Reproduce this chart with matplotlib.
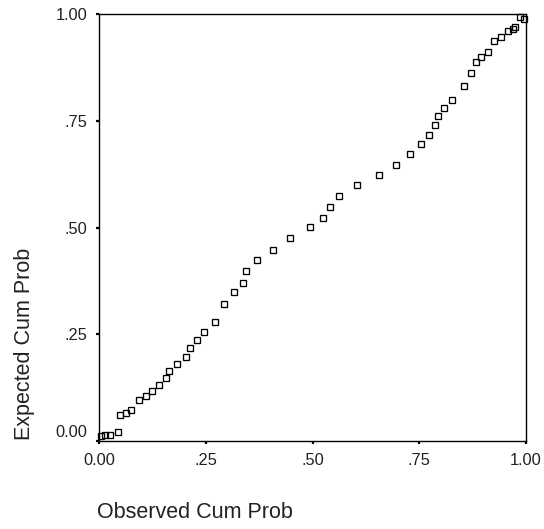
import matplotlib
matplotlib.use("Agg")
import matplotlib.pyplot as plt
from matplotlib.transforms import ScaledTranslation

# Observed vs expected cumulative probabilities (P-P plot)
observed = [0.005, 0.014, 0.026, 0.044, 0.049, 0.063, 0.075, 0.094, 0.109, 0.123,
            0.141, 0.157, 0.164, 0.182, 0.204, 0.214, 0.230, 0.245, 0.271, 0.293,
            0.315, 0.337, 0.344, 0.369, 0.407, 0.447, 0.495, 0.524, 0.542, 0.563,
            0.604, 0.655, 0.695, 0.728, 0.755, 0.773, 0.787, 0.795, 0.808, 0.826,
            0.854, 0.872, 0.883, 0.895, 0.910, 0.925, 0.941, 0.957, 0.969, 0.975,
            0.986, 0.995]
expected = [0.011, 0.013, 0.014, 0.021, 0.060, 0.066, 0.073, 0.096, 0.106, 0.116,
            0.132, 0.147, 0.163, 0.181, 0.196, 0.218, 0.237, 0.256, 0.278, 0.322,
            0.348, 0.369, 0.397, 0.423, 0.448, 0.475, 0.501, 0.522, 0.548, 0.573,
            0.599, 0.624, 0.647, 0.672, 0.695, 0.717, 0.739, 0.761, 0.779, 0.798,
            0.832, 0.862, 0.887, 0.900, 0.910, 0.937, 0.946, 0.961, 0.966, 0.970,
            0.992, 0.988]

tick_values = [0.0, 0.25, 0.5, 0.75, 1.0]
tick_labels = ["0.00", ".25", ".50", ".75", "1.00"]

plt.rcParams['font.family'] = ['Liberation Sans', 'DejaVu Sans']

W, H = 544, 529
fig = plt.figure(figsize=(W / 100, H / 100), dpi=100)
ax = fig.add_axes([99 / W, 1 - 441 / H, (526 - 99) / W, (441 - 14) / H])

ax.plot(observed, expected, linestyle='none', marker='s', markersize=5.0,
        markerfacecolor='none', markeredgecolor='black', markeredgewidth=0.95,
        clip_on=False)

ax.set_xlim(0, 1)
ax.set_ylim(0, 1)
ax.set_xticks(tick_values)
ax.set_xticklabels(tick_labels)
ax.set_yticks(tick_values)
ax.set_yticklabels(tick_labels)

for s in ax.spines.values():
    s.set_linewidth(1.0)
    s.set_color('black')

ax.tick_params(axis='both', direction='out', length=2.5, width=1.6,
               labelsize=11.8, colors='black', labelcolor='#222222', pad=6)
ax.tick_params(axis='x', pad=6)

# lift the 0.00 y label slightly as in the reference
lab0 = ax.get_yticklabels()[0]
lab0.set_transform(lab0.get_transform() + ScaledTranslation(0, 7 / 72, fig.dpi_scale_trans))

fig.text(97 / W, 1 - 512 / H, "Observed Cum Prob", ha='left', va='center',
         fontsize=15.5, color='#222222')
fig.text(25 / W, 1 - 440 / H, "Expected Cum Prob", ha='center', va='bottom',
         rotation=90, fontsize=15.5, color='#222222')

fig.savefig("out.png", dpi=100, facecolor='white')
